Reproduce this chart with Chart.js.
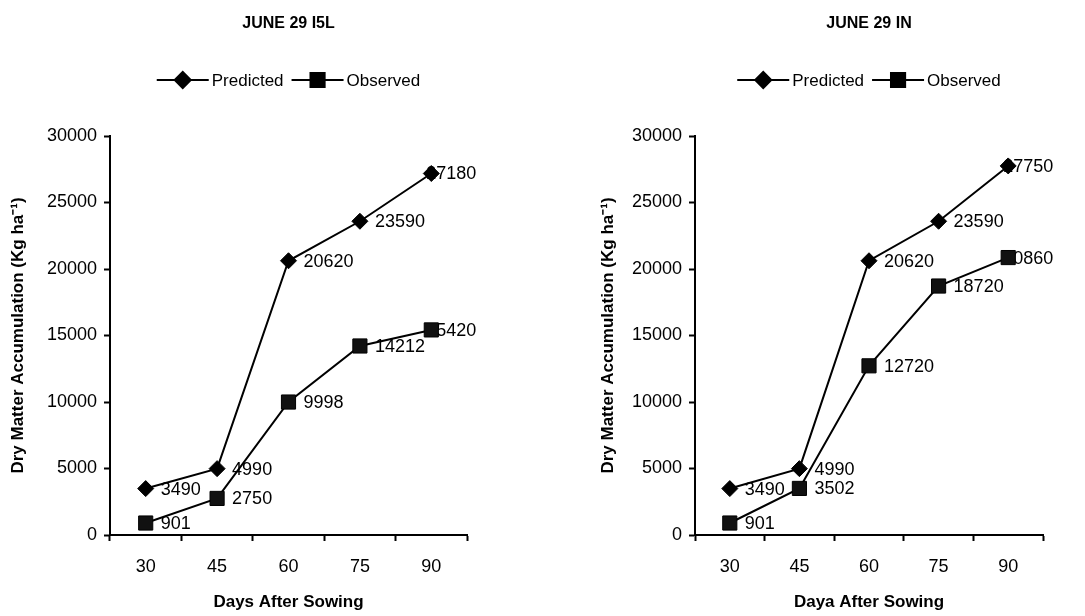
<!DOCTYPE html>
<html>
<head>
<meta charset="utf-8">
<script src="https://cdn.jsdelivr.net/npm/chart.js@4"></script>
<style>
  html, body { margin: 0; padding: 0; background: #fff; }
  #wrap { position: relative; width: 1085px; height: 616px; }
  #c1 { position: absolute; left: 0; top: 0; }
  #c2 { position: absolute; left: 540px; top: 0; }
</style>
</head>
<body>
<div id="wrap">
  <canvas id="c1" width="540" height="616"></canvas>
  <canvas id="c2" width="545" height="616"></canvas>
</div>
<script>
// data
const days = ['30', '45', '60', '75', '90'];
const yTicks = [0, 5000, 10000, 15000, 20000, 25000, 30000];

const predictedI5L = [3490, 4990, 20620, 23590, 27180];
const observedI5L = [901, 2750, 9998, 14212, 15420];

const predictedIN = [3490, 4990, 20620, 23590, 27750];
const observedIN = [901, 3502, 12720, 18720, 20860];

const FONT = "'Liberation Sans', Arial, sans-serif";

// title + legend with line-and-marker samples, drawn over the chart area centre
const headerPlugin = {
    id: 'header',
    afterDraw(chart, args, opts) {
        const ctx = chart.ctx;
        const cx = (chart.chartArea.left + chart.chartArea.right) / 2;
        ctx.save();
        ctx.fillStyle = '#000';
        ctx.textBaseline = 'middle';
        ctx.textAlign = 'center';
        ctx.font = 'bold 16px ' + FONT;
        ctx.fillText(opts.title, cx, 24);

        ctx.font = '17px ' + FONT;
        const lineLen = 52, gap = 3, itemGap = 8;
        const items = chart.data.datasets.map(ds => ({
            ds, w: lineLen + gap + ctx.measureText(ds.label).width
        }));
        const total = items.reduce((s, it) => s + it.w, 0) + itemGap * (items.length - 1);
        let x = cx - total / 2;
        const y = 80;
        ctx.textAlign = 'left';
        items.forEach(it => {
            ctx.strokeStyle = '#000';
            ctx.lineWidth = 2;
            ctx.beginPath();
            ctx.moveTo(x, y);
            ctx.lineTo(x + lineLen, y);
            ctx.stroke();
            ctx.fillStyle = '#000';
            Chart.helpers.drawPoint(ctx, {
                pointStyle: it.ds.pointStyle,
                radius: it.ds.pointRadius,
                rotation: 0,
                borderWidth: 1
            }, x + lineLen / 2, y);
            ctx.fillStyle = '#000';
            ctx.fillText(it.ds.label, x + lineLen + gap, y + 1);
            x += it.w + itemGap;
        });
        ctx.restore();
    }
};

// value labels to the right of each point, drawn under the lines/markers
const valueLabels = {
    id: 'valueLabels',
    beforeDatasetsDraw(chart) {
        const ctx = chart.ctx;
        ctx.save();
        ctx.fillStyle = '#000';
        ctx.font = '18px ' + FONT;
        ctx.textAlign = 'left';
        ctx.textBaseline = 'middle';
        chart.data.datasets.forEach((ds, i) => {
            const pts = chart.getDatasetMeta(i).data;
            pts.forEach((p, j) => {
                const last = j === pts.length - 1;
                ctx.fillText(String(ds.data[j]), p.x + (last ? -5 : 15), p.y + 1);
            });
        });
        ctx.restore();
    }
};

function makeChart(id, title, xTitle, predicted, observed, yAxisWidth, yTitlePad, padRight) {
    return new Chart(document.getElementById(id), {
        type: 'line',
        data: {
            labels: days,
            datasets: [
                {
                    label: 'Predicted',
                    data: predicted,
                    borderColor: '#000',
                    backgroundColor: '#000',
                    borderWidth: 2,
                    pointStyle: 'rectRot',
                    pointRadius: 8,
                    pointBorderWidth: 1,
                    tension: 0
                },
                {
                    label: 'Observed',
                    data: observed,
                    borderColor: '#000',
                    backgroundColor: '#111',
                    borderWidth: 2,
                    pointStyle: 'rect',
                    pointRadius: 10,
                    pointBorderWidth: 1,
                    tension: 0
                }
            ]
        },
        options: {
            responsive: false,
            animation: false,
            layout: { padding: { top: 136, right: padRight, left: 0, bottom: 0 } },
            plugins: {
                legend: { display: false },
                title: { display: false },
                tooltip: { enabled: false },
                header: { title: title }
            },
            scales: {
                x: {
                    offset: true,
                    afterFit: s => { s.height = 81; },
                    grid: {
                        offset: true,
                        drawOnChartArea: false,
                        drawTicks: true,
                        tickLength: 6,
                        tickColor: '#000',
                        tickWidth: 2
                    },
                    border: { color: '#000', width: 2 },
                    ticks: { color: '#000', font: { family: FONT, size: 18 }, padding: 15 },
                    title: {
                        display: true,
                        text: xTitle,
                        color: '#000',
                        font: { family: FONT, size: 17, weight: 'bold' },
                        padding: { top: 0, bottom: 3 }
                    }
                },
                y: {
                    min: 0,
                    max: 30000,
                    afterFit: s => { s.width = yAxisWidth; },
                    afterBuildTicks: s => { s.ticks = yTicks.map(v => ({ value: v })); },
                    grid: {
                        drawOnChartArea: false,
                        drawTicks: true,
                        tickLength: 6,
                        tickColor: '#000',
                        tickWidth: 2
                    },
                    border: { color: '#000', width: 2 },
                    ticks: {
                        color: '#000',
                        font: { family: FONT, size: 18 },
                        padding: 7,
                        callback: v => String(v)
                    },
                    title: {
                        display: true,
                        text: 'Dry Matter Accumulation (Kg ha\u207B\u00B9)',
                        color: '#000',
                        font: { family: FONT, size: 17, weight: 'bold' },
                        padding: { top: yTitlePad, bottom: 0 }
                    }
                }
            }
        },
        plugins: [headerPlugin, valueLabels]
    });
}

makeChart('c1', 'JUNE 29 I5L', 'Days After Sowing', predictedI5L, observedI5L, 110, 8, 73);
makeChart('c2', 'JUNE 29 IN', 'Daya After Sowing', predictedIN, observedIN, 155, 58, 42);
</script>
</body>
</html>
